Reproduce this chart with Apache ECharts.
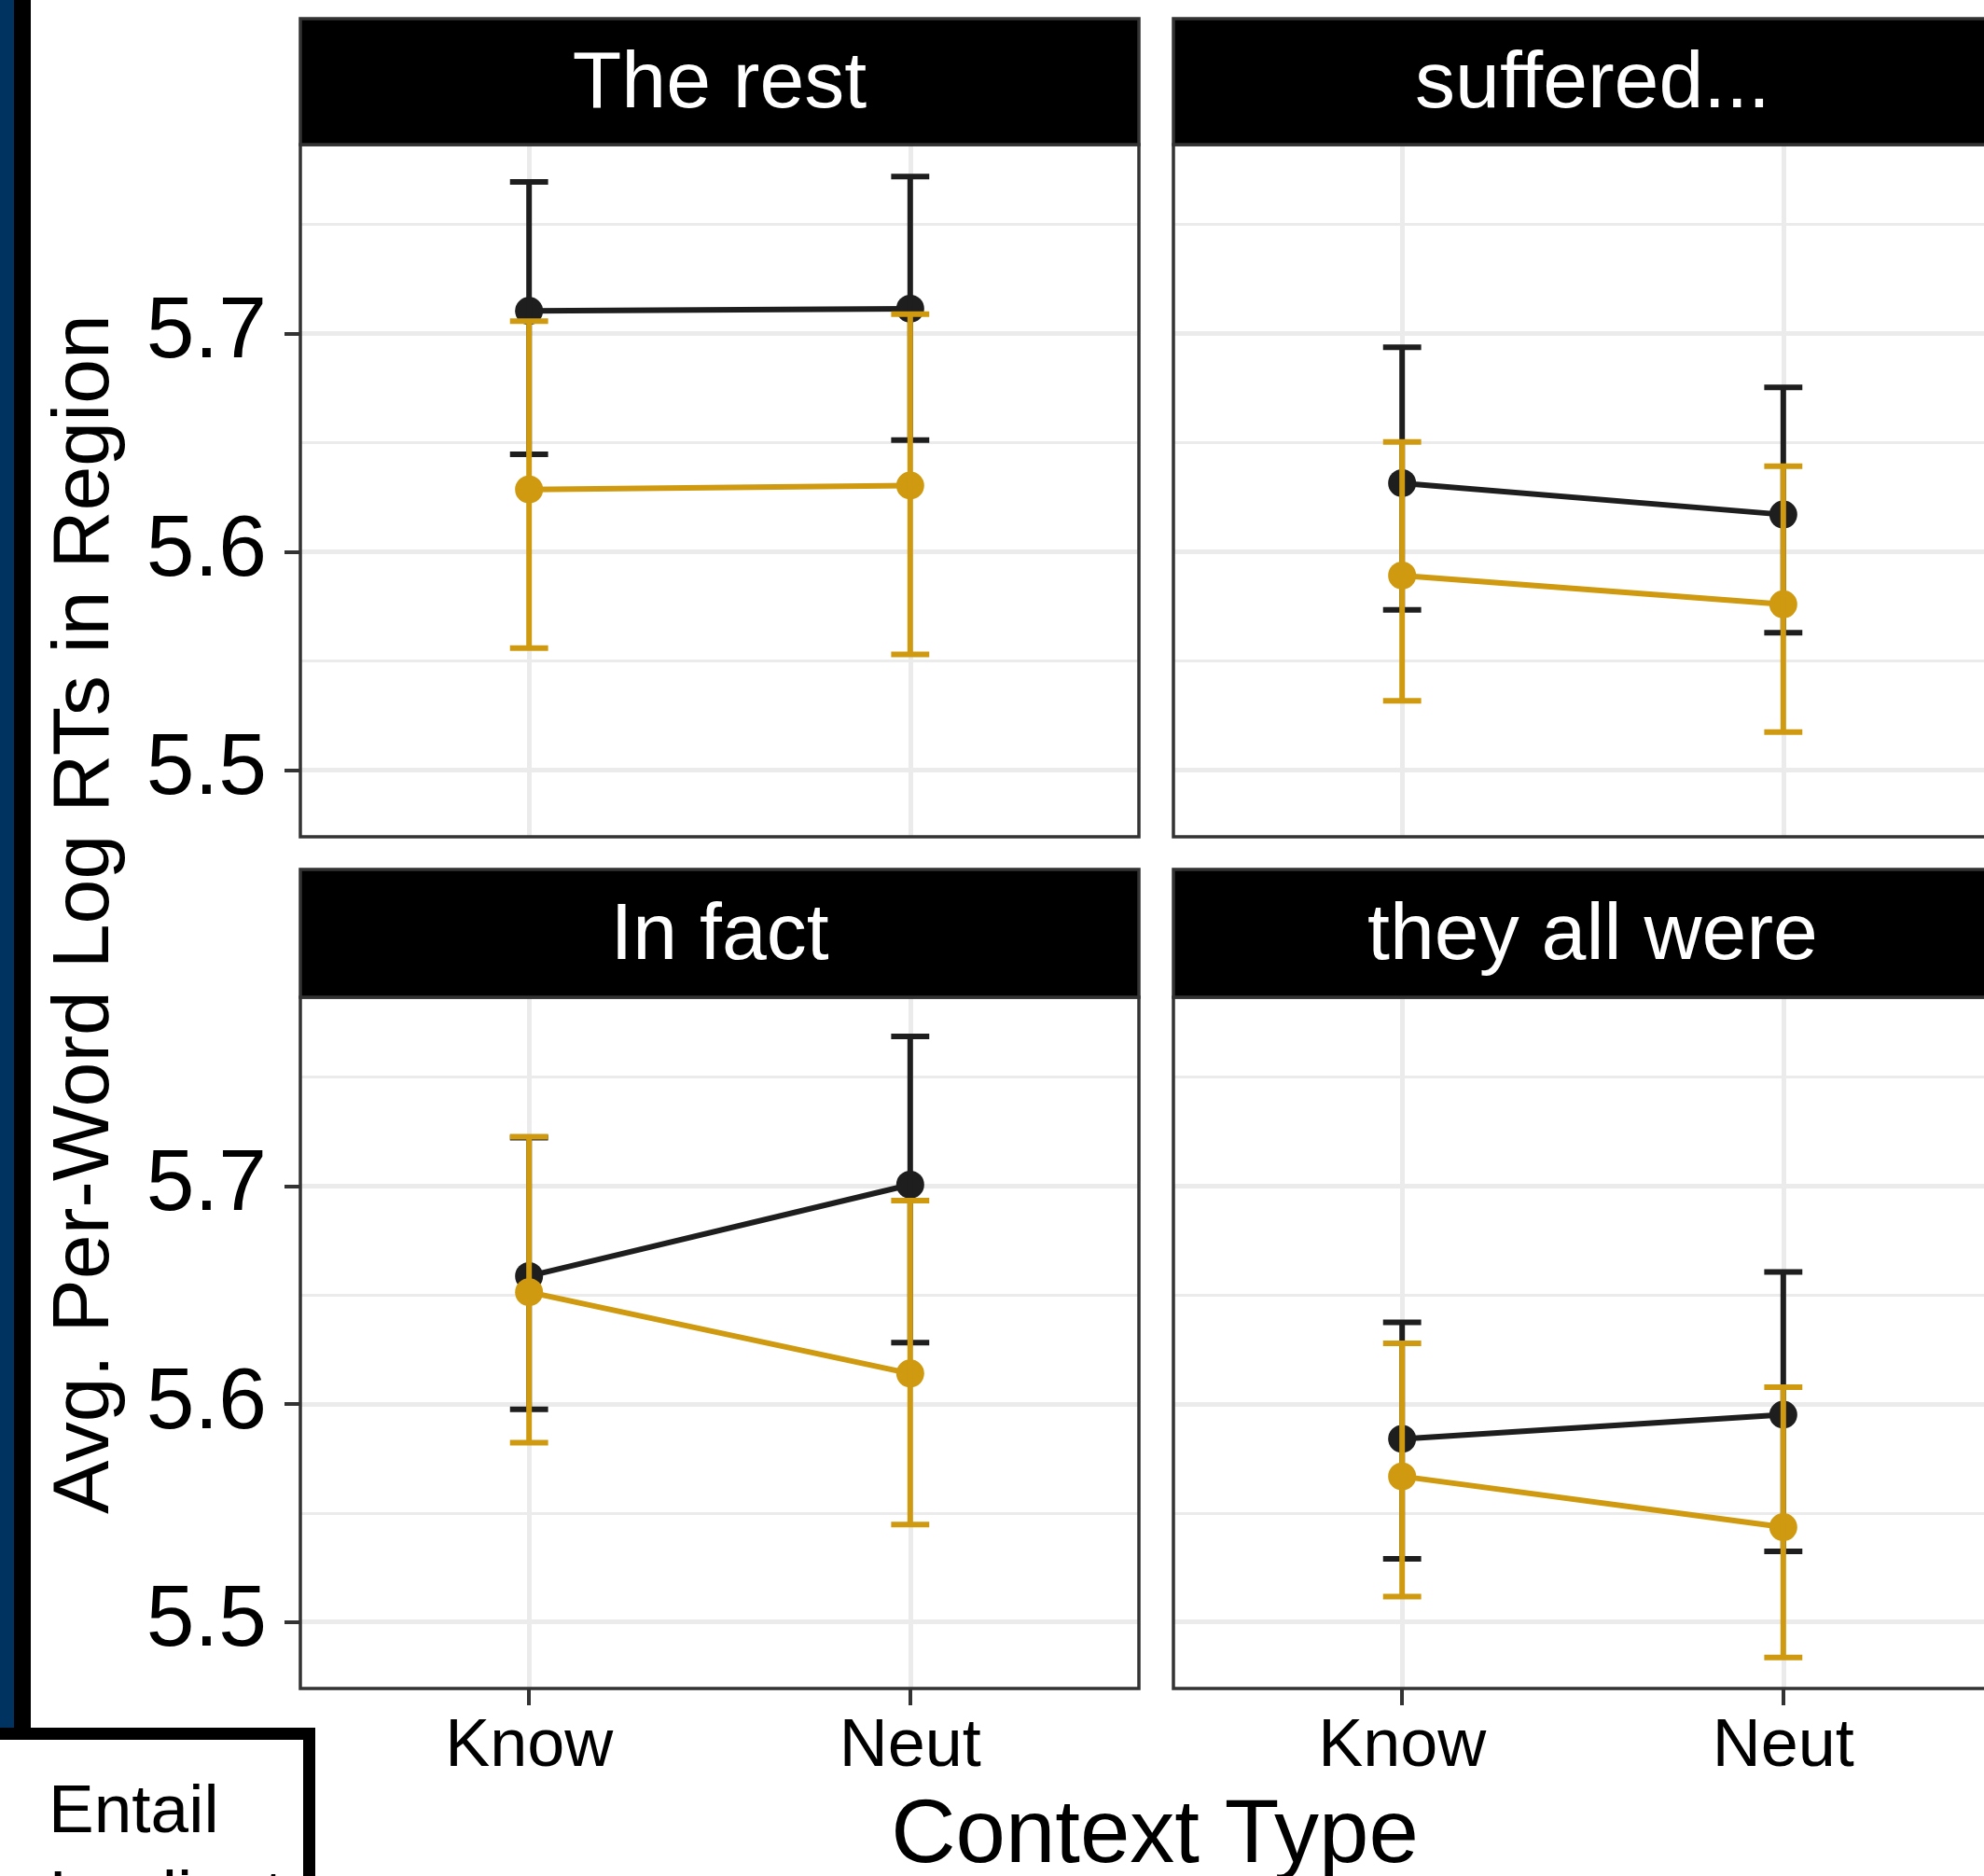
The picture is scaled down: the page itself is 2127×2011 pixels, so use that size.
<!DOCTYPE html>
<html>
<head>
<meta charset="utf-8">
<script src="https://cdn.jsdelivr.net/npm/echarts@6/dist/echarts.min.js"></script>
<style>
  html, body { margin: 0; padding: 0; background: #fff; overflow: hidden; }
  #frame { width: 2127px; height: 2011px; overflow: hidden; position: relative; }
  #chart { width: 2200px; height: 2011px; position: absolute; left: 0; top: 0; }
</style>
</head>
<body>
<div id="frame"><div id="chart"></div></div>
<script>
// facets, categories, ticks
const panelNames = ['The rest', 'suffered...', 'In fact', 'they all were']
const categories = ['Know', 'Neut']
const catPos = [1, 2]
const majorTicks = [5.5, 5.6, 5.7]
const minorTicks = [5.55, 5.65, 5.75]
const yRange = [5.4695, 5.7866]

// per panel, values at [Know, Neut]
const entailMean = [[5.7104, 5.7114], [5.6315, 5.6171], [5.6587, 5.7006], [5.5840, 5.5951]]
const entailLow  = [[5.6447, 5.6512], [5.5735, 5.5630], [5.5976, 5.6282], [5.5290, 5.5324]]
const entailHigh = [[5.7695, 5.7720], [5.6938, 5.6754], [5.7222, 5.7686], [5.6375, 5.6606]]
const implMean   = [[5.6286, 5.6304], [5.5892, 5.5760], [5.6513, 5.6140], [5.5668, 5.5435]]
const implLow    = [[5.5559, 5.5530], [5.5318, 5.5175], [5.5823, 5.5447], [5.5116, 5.4837]]
const implHigh   = [[5.7057, 5.7089], [5.6504, 5.6393], [5.7226, 5.6933], [5.6278, 5.6077]]

const BLACK = '#1e1e1e'
const GOLD = '#cf9a10'
const FONT = '"Liberation Sans", Arial, sans-serif'

// layout of the 2x2 facet grid
const colLeft = [322, 1258]
const panelW = 899
const rows = [
  { stripTop: 20, stripH: 135, top: 155, h: 742 },
  { stripTop: 932, stripH: 137, top: 1069, h: 741 },
]

const chart = echarts.init(document.getElementById('chart'))

function renderErr(params, api) {
  const x = api.value(0)
  const lo = api.coord([x, api.value(1)])
  const hi = api.coord([x, api.value(2)])
  const half = api.size([0.1, 0])[0] / 2
  const style = { stroke: api.visual('color'), lineWidth: 6 }
  return {
    type: 'group',
    children: [
      { type: 'line', shape: { x1: lo[0], y1: lo[1], x2: hi[0], y2: hi[1] }, style },
      { type: 'line', shape: { x1: lo[0] - half, y1: lo[1], x2: lo[0] + half, y2: lo[1] }, style },
      { type: 'line', shape: { x1: hi[0] - half, y1: hi[1], x2: hi[0] + half, y2: hi[1] }, style },
    ],
  }
}

const grids = [], xAxes = [], yAxes = [], series = [], graphics = []

panelNames.forEach((name, i) => {
  const r = rows[Math.floor(i / 2)]
  const c = i % 2
  const bottomRow = i >= 2
  const leftCol = c === 0

  grids.push({ left: colLeft[c], top: r.top, width: panelW, height: r.h, show: true, z: 4,
    backgroundColor: 'transparent', borderColor: '#333', borderWidth: 3.5 })

  xAxes.push({
    type: 'value', gridIndex: i, min: 0.4, max: 2.6,
    axisLine: { show: false }, splitLine: { show: false },
    axisTick: { show: bottomRow, customValues: catPos, length: 18, lineStyle: { color: '#333', width: 4 } },
    axisLabel: { show: bottomRow, customValues: catPos, margin: 27, fontSize: 72, color: '#000', fontFamily: FONT,
      formatter: (v) => categories[Math.round(v) - 1] },
  })
  yAxes.push({
    type: 'value', gridIndex: i, min: yRange[0], max: yRange[1],
    axisLine: { show: false }, splitLine: { show: false },
    axisTick: { show: leftCol, customValues: majorTicks, length: 17, lineStyle: { color: '#333', width: 4 } },
    axisLabel: { show: leftCol, customValues: majorTicks, margin: 36, fontSize: 93, color: '#000', fontFamily: FONT,
      formatter: (v) => v.toFixed(1) },
  })

  // panel grid lines
  series.push({
    type: 'line', xAxisIndex: i, yAxisIndex: i, data: [], silent: true, z: 1,
    markLine: {
      silent: true, z: 1, animation: false, symbol: ['none', 'none'], label: { show: false },
      lineStyle: { color: '#ebebeb', type: 'solid', width: 5 },
      emphasis: { disabled: true },
      data: [
        ...majorTicks.map((v) => ({ yAxis: v, lineStyle: { width: 5 } })),
        ...minorTicks.map((v) => ({ yAxis: v, lineStyle: { width: 3 } })),
        ...catPos.map((v) => ({ xAxis: v, lineStyle: { width: 5 } })),
      ],
    },
  })

  const groups = [
    { name: 'Entail', color: BLACK, mean: entailMean, low: entailLow, high: entailHigh },
    { name: 'Implicature', color: GOLD, mean: implMean, low: implLow, high: implHigh },
  ]
  groups.forEach((g, k) => {
    series.push({
      type: 'line', name: g.name, xAxisIndex: i, yAxisIndex: i, z: 2 + k * 2,
      data: catPos.map((x, j) => [x, g.mean[i][j]]),
      symbol: 'circle', symbolSize: 30, showSymbol: true,
      itemStyle: { color: g.color }, lineStyle: { color: g.color, width: 6 },
      animation: false, silent: true,
    })
    series.push({
      type: 'custom', name: g.name, xAxisIndex: i, yAxisIndex: i, z: 3 + k * 2,
      data: catPos.map((x, j) => [x, g.low[i][j], g.high[i][j]]),
      itemStyle: { color: g.color }, renderItem: renderErr,
      animation: false, silent: true,
    })
  })

  // facet strip
  graphics.push({
    type: 'rect', z: 10,
    shape: { x: colLeft[c], y: r.stripTop, width: panelW, height: r.stripH },
    style: { fill: '#000', stroke: '#333', lineWidth: 3.5 },
  })
  graphics.push({
    type: 'text', z: 11, x: colLeft[c] + panelW / 2, y: r.stripTop + r.stripH / 2 + 4,
    style: { text: name, fill: '#fff', font: '86px ' + FONT, align: 'center', verticalAlign: 'middle' },
  })
})

// axis titles
graphics.push({
  type: 'text', z: 11, x: 1238, y: 1970,
  style: { text: 'Context Type', fill: '#000', font: '96px ' + FONT, align: 'center', verticalAlign: 'middle' },
})
graphics.push({
  type: 'text', z: 11, x: 92, y: 980, rotation: Math.PI / 2,
  style: { text: 'Avg. Per-Word Log RTs in Region', fill: '#000', font: '86px ' + FONT, align: 'center', verticalAlign: 'middle' },
})

// slide decoration on the left edge and the cut legend box
graphics.push({ type: 'rect', z: 12, shape: { x: 0, y: 0, width: 15, height: 1852 }, style: { fill: '#00335f' } })
graphics.push({ type: 'rect', z: 12, shape: { x: 15, y: 0, width: 18, height: 1852 }, style: { fill: '#000' } })
graphics.push({
  type: 'rect', z: 12, shape: { x: -20, y: 1858.5, width: 351.5, height: 300 },
  style: { fill: '#fff', stroke: '#000', lineWidth: 13 },
})
graphics.push({
  type: 'text', z: 13, x: 52, y: 1944,
  style: { text: 'Entail', fill: '#000', font: '73px ' + FONT, align: 'left', verticalAlign: 'middle' },
})
graphics.push({
  type: 'text', z: 13, x: 52, y: 2036,
  style: { text: 'Implicature', fill: '#000', font: '73px ' + FONT, align: 'left', verticalAlign: 'middle',
    width: 262, overflow: 'truncate', ellipsis: '' },
})

chart.setOption({
  animation: false,
  backgroundColor: '#fff',
  grid: grids,
  xAxis: xAxes,
  yAxis: yAxes,
  series,
  graphic: graphics,
})
</script>
</body>
</html>
